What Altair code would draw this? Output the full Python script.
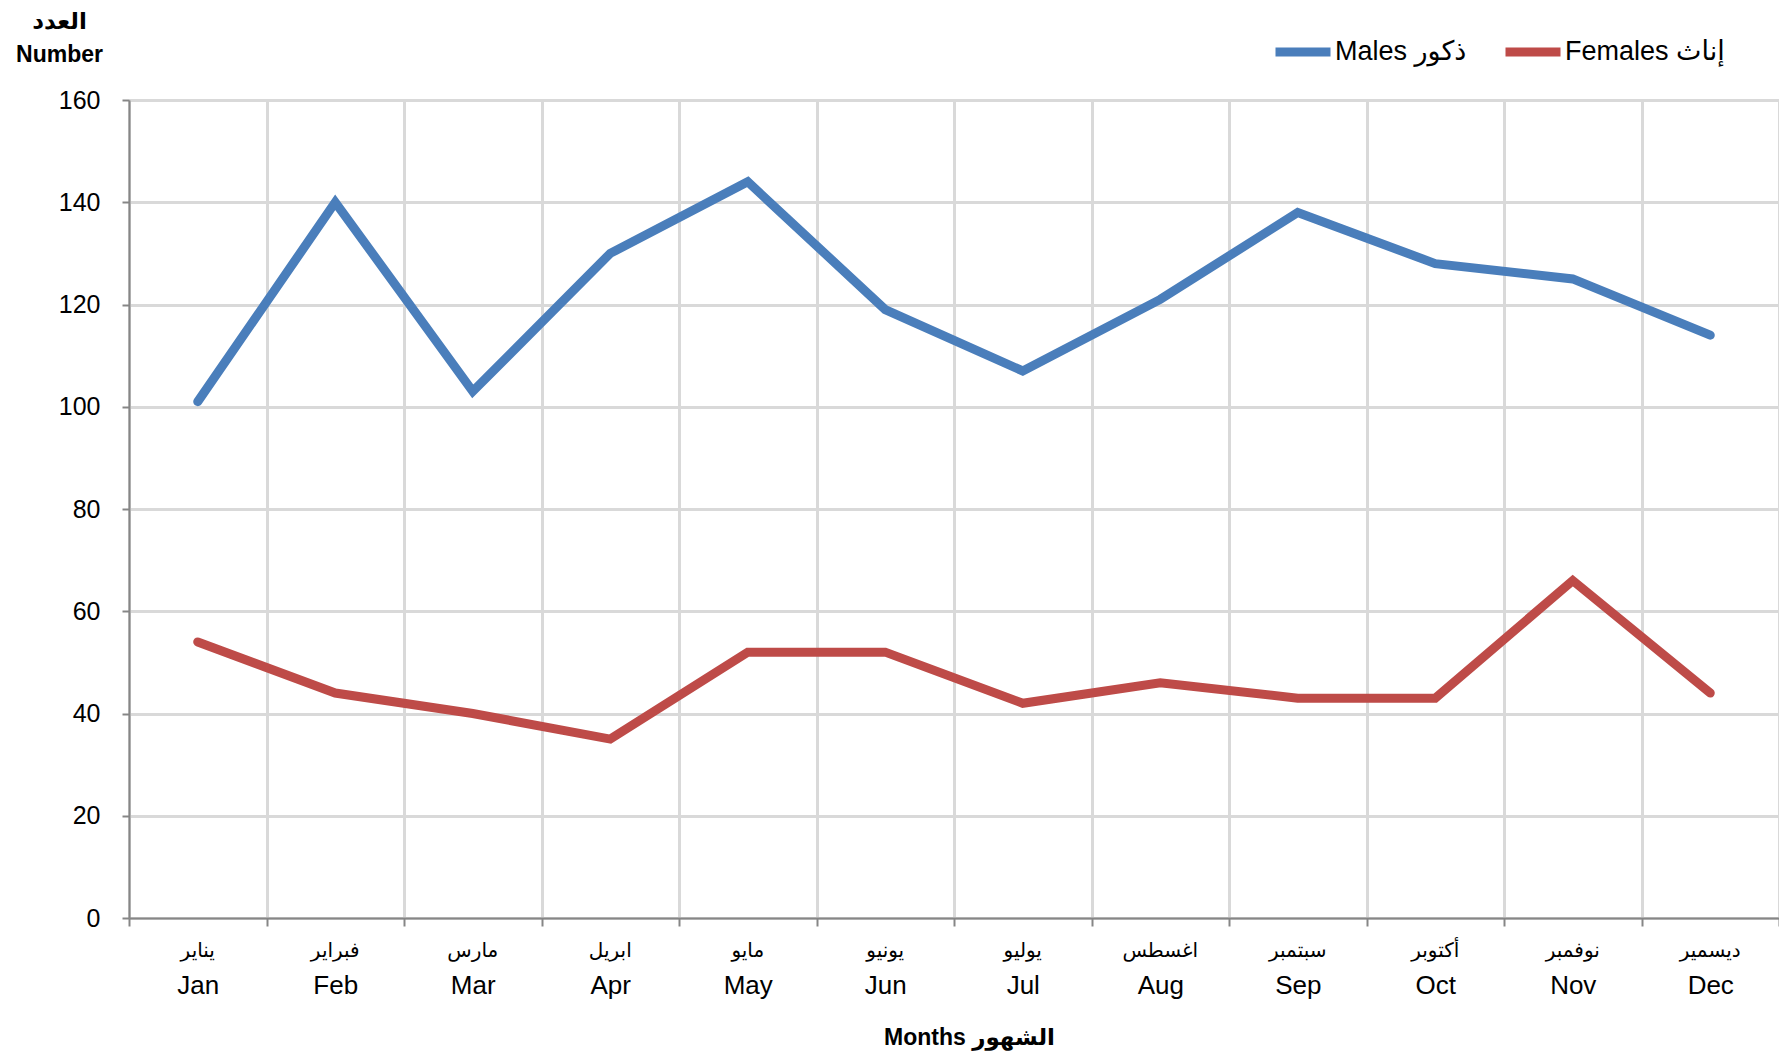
import altair as alt
import pandas as pd

months_en = ["Jan", "Feb", "Mar", "Apr", "May", "Jun", "Jul", "Aug", "Sep", "Oct", "Nov", "Dec"]
months_ar = ["يناير", "فبراير", "مارس", "ابريل", "مايو", "يونيو", "يوليو", "اغسطس", "سبتمبر", "أكتوبر", "نوفمبر", "ديسمير"]
males = [101, 140, 103, 130, 144, 119, 107, 121, 138, 128, 125, 114]
females = [54, 44, 40, 35, 52, 52, 42, 46, 43, 43, 66, 44]
series_names = ["Males ذكور", "Females إناث"]
series_colors = ["#4A7EBB", "#BE4B48"]
y_ticks = [0, 20, 40, 60, 80, 100, 120, 140, 160]

FONT = "Liberation Sans, Arial, DejaVu Sans"
W, H = 1650, 818

rows = []
for m, v in zip(months_en, males):
    rows.append({"month": m, "series": series_names[0], "value": v})
for m, v in zip(months_en, females):
    rows.append({"month": m, "series": series_names[1], "value": v})
df = pd.DataFrame(rows)
df_lab = pd.DataFrame({"month": months_en, "ar": months_ar})

x_scale = alt.Scale(type="band", paddingInner=0, paddingOuter=0, domain=months_en)

lines = alt.Chart(df).mark_line(strokeWidth=9, strokeCap="round", strokeJoin="miter").encode(
    x=alt.X("month:N", sort=months_en, scale=x_scale, bandPosition=0.5,
            axis=alt.Axis(title="Months الشهور", tickBand="extent", grid=True,
                          gridColor="#D9D9D9", gridWidth=3,
                          domainColor="#868686", domainWidth=2,
                          tickColor="#868686", tickWidth=2, tickSize=8,
                          labelFontSize=26, labelPadding=46, labelColor="#000000",
                          labelAngle=0,
                          titleFontSize=23, titleFontWeight="bold", titleColor="#000000",
                          titleAlign="center", titleX=840,
                          titleBaseline="alphabetic", titleY=126)),
    y=alt.Y("value:Q", scale=alt.Scale(domain=[0, 160], nice=False),
            axis=alt.Axis(values=y_ticks, grid=True, gridColor="#D9D9D9", gridWidth=3,
                          domainColor="#868686", domainWidth=2,
                          tickColor="#868686", tickWidth=2, tickSize=7,
                          labelFontSize=25, labelPadding=22, labelColor="#000000",
                          title=["العدد", "Number"], titleAngle=0, titleAlign="center",
                          titleBaseline="top", titleX=-70, titleY=-90,
                          titleLineHeight=33, titleFontSize=23, titleFontWeight="bold",
                          titleColor="#000000")),
    color=alt.Color("series:N", scale=alt.Scale(domain=series_names, range=series_colors),
                    legend=alt.Legend(title=None, orient="none", direction="horizontal",
                                      legendX=1142, legendY=-80,
                                      symbolType="stroke", symbolSize=3025, symbolStrokeWidth=9,
                                      labelFontSize=27, labelColor="#000000", labelOffset=0,
                                      columnPadding=20)),
    order=alt.Order("series:N")
)

ar_labels = alt.Chart(df_lab).mark_text(fontSize=20, font=FONT, color="#000000", baseline="middle").encode(
    x=alt.X("month:N", sort=months_en, scale=x_scale, bandPosition=0.5),
    y=alt.value(H + 33),
    text="ar:N"
)

chart = alt.layer(lines, ar_labels).properties(
    width=W, height=H,
    autosize=alt.AutoSizeParams(type="none"),
    padding={"left": 121, "top": 92, "right": 0, "bottom": 133}
).configure(font=FONT).configure_view(stroke=None)

chart.save("out.html", embed_options={"renderer": "svg", "actions": False})
